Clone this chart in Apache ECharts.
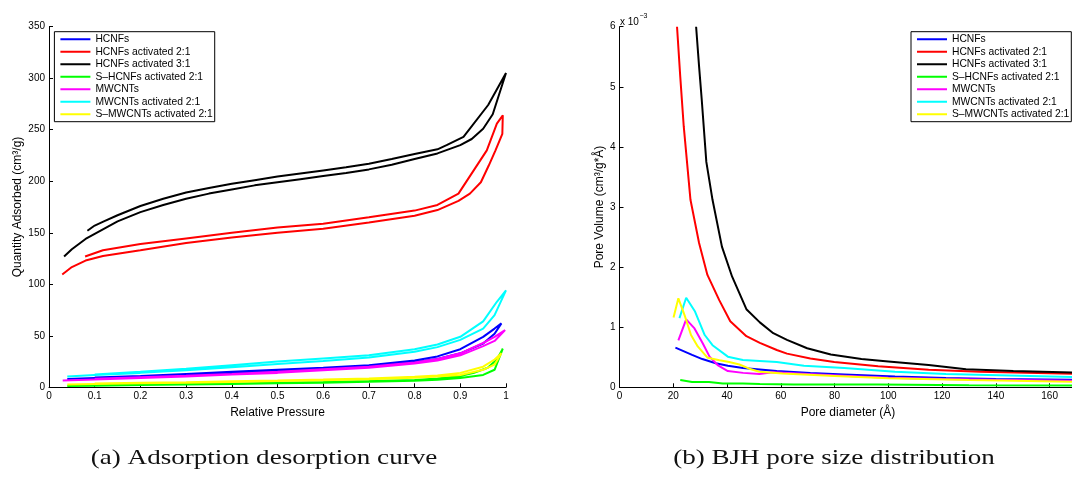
<!DOCTYPE html>
<html>
<head>
<meta charset="utf-8">
<script src="https://cdn.jsdelivr.net/npm/echarts@6/dist/echarts.min.js"></script>
<style>
  html, body { margin: 0; padding: 0; background: #fff; overflow: hidden; }
  #chart { width: 1072px; height: 480px; }
</style>
</head>
<body>
<div id="chart"></div>
<script>
// ---------- sample names (legend order) ----------
const sampleNames = [
  'HCNFs',
  'HCNFs activated 2:1',
  'HCNFs activated 3:1',
  'S\u2013HCNFs activated 2:1',
  'MWCNTs',
  'MWCNTs activated 2:1',
  'S\u2013MWCNTs activated 2:1'
];
const sampleColors = ['#0000ff', '#ff0000', '#000000', '#00ff00', '#ff00ff', '#00ffff', '#ffff00'];

// ---------- (a) isotherms: adsorption branch followed by desorption branch ----------
// relative pressure P/P0 and quantity adsorbed (cm3/g)
const isoP_HCNFs = [0.04,0.1,0.2,0.3,0.4,0.5,0.6,0.7,0.8,0.85,0.9,0.95,0.975,0.99,
                    0.975,0.95,0.9,0.85,0.8,0.7,0.6,0.5,0.4,0.3,0.2,0.1];
const isoV_HCNFs = [8,9,10.5,12,14,16,18,20,24,27.5,33,42.5,52,62,
                    57,49,37,30,26,21.5,19,17,15,13,11,9.5];

const isoP_HCNFs21 = [0.029,0.05,0.08,0.118,0.2,0.3,0.4,0.5,0.6,0.7,0.8,0.85,0.896,0.921,0.945,0.962,0.977,0.992,
                      0.993,0.98,0.958,0.896,0.85,0.8,0.7,0.6,0.5,0.4,0.3,0.2,0.118,0.079];
const isoV_HCNFs21 = [109.5,116.7,123,127.5,133,140,145.5,150,154,160,166.5,172,181,188,199,215,230,246,
                      264,256,230,188,177,171.5,165,158.7,155,150,144.5,139,133,127];

const isoP_HCNFs31 = [0.033,0.05,0.08,0.1,0.15,0.2,0.25,0.3,0.35,0.4,0.45,0.5,0.55,0.6,0.65,0.7,0.75,0.8,0.85,0.9,0.925,0.95,0.971,1.0,
                      0.961,0.907,0.87,0.85,0.8,0.75,0.7,0.65,0.6,0.55,0.5,0.45,0.4,0.35,0.3,0.25,0.2,0.15,0.12,0.1,0.084];
const isoV_HCNFs31 = [127,134,144,149,161,170,177,183,188,192,196,199,202,205,208,211.5,216,221.5,227,235,241,251,265,305,
                      274,243,235,231,226.5,221.5,217,213.5,210.5,207.5,204.5,201,197.5,193.5,189,183,176,167,161,157,152];

const isoP_SHCNFs = [0.04,0.1,0.2,0.3,0.4,0.5,0.6,0.7,0.8,0.85,0.9,0.95,0.975,0.993,
                     0.98,0.96,0.93,0.9,0.85,0.8,0.7,0.6,0.5,0.4,0.3,0.2,0.1];
const isoV_SHCNFs = [1.2,1.6,2.2,2.7,3.3,3.9,4.5,5.3,6.3,7.3,9,12,17,37.5,
                     27,19,14,11,8.5,7.2,6,5.1,4.4,3.8,3.2,2.6,2.1];

const isoP_MWCNTs = [0.03,0.1,0.2,0.3,0.4,0.5,0.6,0.7,0.8,0.85,0.9,0.95,0.975,0.998,
                     0.975,0.95,0.9,0.85,0.8,0.7,0.6,0.5,0.4,0.3,0.2,0.1];
const isoV_MWCNTs = [6.5,7.5,9,10.5,12.5,14,16.5,19,23,26,31,40,45,55.5,
                     49,43,33,27.5,24,20,17.5,15,13,11.3,9.8,8.2];

const isoP_MWCNTs21 = [0.04,0.1,0.2,0.3,0.4,0.5,0.6,0.7,0.8,0.85,0.9,0.95,0.975,1.0,
                       0.98,0.95,0.9,0.85,0.8,0.7,0.6,0.5,0.4,0.3,0.2,0.1];
const isoV_MWCNTs21 = [10.5,12,14,16.5,19.5,22.5,25.5,29,34.5,39,46,57,70,94,
                       83,64,49,41.5,37,31,28,25,21.5,18,15,12.5];

const isoP_SMWCNTs = [0.04,0.1,0.2,0.3,0.4,0.5,0.6,0.7,0.8,0.85,0.9,0.95,0.975,0.99,
                      0.975,0.95,0.9,0.85,0.8,0.7,0.6,0.5,0.4,0.3,0.2,0.1];
const isoV_SMWCNTs = [2.8,3.3,3.9,4.5,5.2,6,6.8,7.8,9.3,10.5,12,17,22,33,
                      27,20,14,11.5,10.3,8.6,7.5,6.6,5.8,5,4.4,3.8];

// ---------- (b) BJH distribution: pore diameter (Å) and dV/dD (x 10^-3 cm3/g·Å) ----------
const bjhD_HCNFs = [20.8,27,30.8,35.8,40.3,45.9,58.5,71,83.6,102.5,121.4,140,170];
const bjhY_HCNFs = [0.66,0.54,0.47,0.40,0.36,0.32,0.27,0.24,0.215,0.18,0.155,0.14,0.125];

const bjhD_HCNFs21 = [21.4,22.6,23.9,26.4,29.6,32.7,37.1,41.2,47.2,52.2,58.5,62.3,71,79.9,96.2,115,134,170];
const bjhY_HCNFs21 = [6.0,5.17,4.34,3.12,2.4,1.87,1.45,1.1,0.85,0.74,0.62,0.56,0.48,0.42,0.35,0.29,0.26,0.225];

const bjhD_HCNFs31 = [28.5,29.6,30.6,32.3,34.6,38.1,41.9,47.2,52.2,57.2,62.3,69.8,78.6,90,100,115,128.9,146.5,170];
const bjhY_HCNFs31 = [6.0,5.34,4.78,3.75,3.12,2.34,1.84,1.3,1.08,0.9,0.79,0.65,0.545,0.47,0.43,0.37,0.30,0.27,0.245];

const bjhD_SHCNFs = [22.6,27,33.3,38.4,45.9,52.2,64.8,96,130,170];
const bjhY_SHCNFs = [0.12,0.09,0.09,0.065,0.065,0.055,0.045,0.045,0.035,0.03];

const bjhD_MWCNTs = [21.9,24.8,27.9,31.0,33.5,36.5,40.3,46,52,57,70,85,100,120,140,170];
const bjhY_MWCNTs = [0.78,1.13,0.98,0.73,0.51,0.37,0.27,0.24,0.22,0.25,0.22,0.19,0.16,0.14,0.125,0.11];

const bjhD_MWCNTs21 = [22.3,24.8,28.1,31.7,34.6,40.3,45.9,58.5,68.6,83.6,102.5,121.4,170];
const bjhY_MWCNTs21 = [1.15,1.49,1.26,0.87,0.70,0.51,0.455,0.42,0.36,0.32,0.26,0.22,0.17];

const bjhD_SMWCNTs = [20.1,21.9,24.2,26.6,29.1,32.8,37.2,40.8,44.6,48.3,52,60.7,80,100,130,170];
const bjhY_SMWCNTs = [1.16,1.48,1.2,0.87,0.68,0.49,0.45,0.42,0.38,0.31,0.26,0.23,0.19,0.15,0.12,0.09];

// ---------- axis ticks ----------
const isoXTicks = { min: 0, max: 1, interval: 0.1 };
const isoYTicks = { min: 0, max: 350, interval: 50 };
const bjhXTicks = { min: 0, max: 170, interval: 20 };
const bjhYTicks = { min: 0, max: 6, interval: 1 };

const isoSets = [
  [isoP_HCNFs, isoV_HCNFs], [isoP_HCNFs21, isoV_HCNFs21], [isoP_HCNFs31, isoV_HCNFs31],
  [isoP_SHCNFs, isoV_SHCNFs], [isoP_MWCNTs, isoV_MWCNTs], [isoP_MWCNTs21, isoV_MWCNTs21],
  [isoP_SMWCNTs, isoV_SMWCNTs]
];
const bjhSets = [
  [bjhD_HCNFs, bjhY_HCNFs], [bjhD_HCNFs21, bjhY_HCNFs21], [bjhD_HCNFs31, bjhY_HCNFs31],
  [bjhD_SHCNFs, bjhY_SHCNFs], [bjhD_MWCNTs, bjhY_MWCNTs], [bjhD_MWCNTs21, bjhY_MWCNTs21],
  [bjhD_SMWCNTs, bjhY_SMWCNTs]
];

const zip = (xs, ys) => xs.map((x, i) => [x, ys[i]]);

const SANS = '"Liberation Sans", Arial, sans-serif';
const SERIF = '"Liberation Serif", "Times New Roman", serif';

function axisCommon() {
  return {
    axisLine: { show: true, onZero: false, lineStyle: { color: '#000', width: 1 } },
    axisTick: { show: true, inside: true, length: 4, lineStyle: { color: '#000', width: 1 } },
    splitLine: { show: false },
    nameTextStyle: { color: '#000', fontFamily: SANS, fontSize: 12 },
    axisLabel: { color: '#000', fontFamily: SANS, fontSize: 10, margin: 4 }
  };
}

function legendFor(left) {
  return {
    show: true,
    orient: 'vertical',
    left: left,
    top: 31.7,
    icon: 'rect',
    itemWidth: 30,
    itemHeight: 2,
    itemGap: 0,
    padding: [1.3, 2, 1.2, 6],
    backgroundColor: '#fff',
    borderColor: '#000',
    borderWidth: 1,
    selectedMode: false,
    textStyle: { color: '#000', fontFamily: SANS, fontSize: 10.3, lineHeight: 12.5 }
  };
}

const series = [];
isoSets.forEach((s, i) => {
  series.push({
    name: sampleNames[i], type: 'line', xAxisIndex: 0, yAxisIndex: 0,
    data: zip(s[0], s[1]), symbol: 'none', smooth: false, clip: true,
    lineStyle: { color: sampleColors[i], width: 2 }, itemStyle: { color: sampleColors[i] }
  });
});
bjhSets.forEach((s, i) => {
  series.push({
    name: sampleNames[i], type: 'line', xAxisIndex: 1, yAxisIndex: 1,
    data: zip(s[0], s[1]), symbol: 'none', smooth: false, clip: true,
    lineStyle: { color: sampleColors[i], width: 2 }, itemStyle: { color: sampleColors[i] }
  });
});

const chart = echarts.init(document.getElementById('chart'), null, { renderer: 'canvas' });
chart.setOption({
  backgroundColor: '#fff',
  animation: false,
  grid: [
    { left: 49, top: 26.7, width: 457, height: 360.6, containLabel: false, outerBoundsMode: 'none' },
    { left: 619.5, top: 26.7, width: 457, height: 360.6, containLabel: false, outerBoundsMode: 'none' }
  ],
  xAxis: [
    Object.assign(axisCommon(), {
      type: 'value', gridIndex: 0, min: isoXTicks.min, max: isoXTicks.max, interval: isoXTicks.interval,
      name: 'Relative Pressure', nameLocation: 'middle', nameGap: 15
    }),
    Object.assign(axisCommon(), {
      type: 'value', gridIndex: 1, min: bjhXTicks.min, max: bjhXTicks.max, interval: bjhXTicks.interval,
      name: 'Pore diameter (\u00c5)', nameLocation: 'middle', nameGap: 15,
      axisLabel: { color: '#000', fontFamily: SANS, fontSize: 10, margin: 4, showMaxLabel: false }
    })
  ],
  yAxis: [
    Object.assign(axisCommon(), {
      type: 'value', gridIndex: 0, min: isoYTicks.min, max: isoYTicks.max, interval: isoYTicks.interval,
      name: 'Quantity Adsorbed (cm\u00b3/g)', nameLocation: 'middle', nameGap: 25
    }),
    Object.assign(axisCommon(), {
      type: 'value', gridIndex: 1, min: bjhYTicks.min, max: bjhYTicks.max, interval: bjhYTicks.interval,
      name: 'Pore Volume (cm\u00b3/g*\u00c5)', nameLocation: 'middle', nameGap: 14
    })
  ],
  legend: [legendFor(54.4), legendFor(911)],
  graphic: [
    { type: 'text', x: 620, y: 22, style: { text: 'x 10', font: '10px ' + SANS, fill: '#000', textAlign: 'left', textVerticalAlign: 'middle' } },
    { type: 'text', x: 639.5, y: 16.5, style: { text: '\u22123', font: '7px ' + SANS, fill: '#000', textAlign: 'left', textVerticalAlign: 'middle' } },
    { type: 'text', x: 264, y: 458, scaleX: 1.23, style: { text: '(a) Adsorption desorption curve', font: '22px ' + SERIF, fill: '#111', textAlign: 'center', textVerticalAlign: 'middle' } },
    { type: 'text', x: 834, y: 458, scaleX: 1.23, style: { text: '(b) BJH pore size distribution', font: '22px ' + SERIF, fill: '#111', textAlign: 'center', textVerticalAlign: 'middle' } }
  ],
  series: series
});
</script>
</body>
</html>
